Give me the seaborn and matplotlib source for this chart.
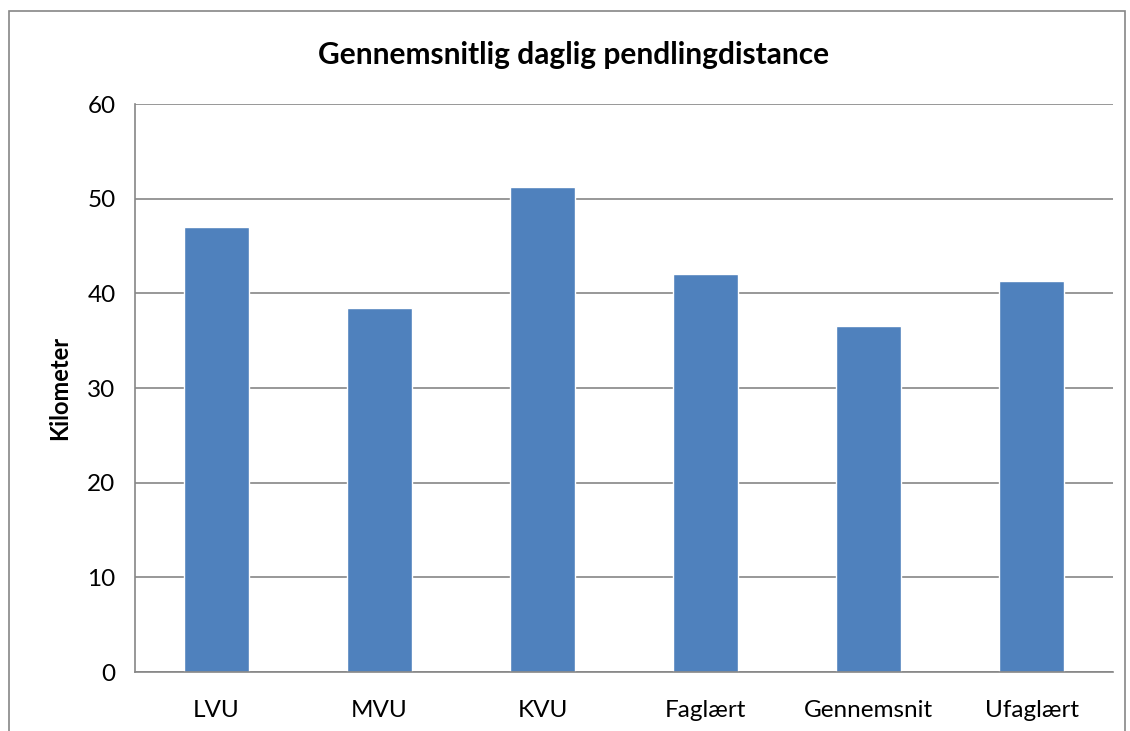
import matplotlib.pyplot as plt
import numpy as np
import pandas as pd
import seaborn as sns
from matplotlib.patches import Rectangle

categories = ['LVU', 'MVU', 'KVU', 'Faglært', 'Gennemsnit', 'Ufaglært']
km = [47.0, 38.4, 51.2, 42.0, 36.6, 41.3]
yticks = [0, 10, 20, 30, 40, 50, 60]

df = pd.DataFrame({'Uddannelse': categories, 'Kilometer': km})

sns.set_style('white')
plt.rcParams['font.family'] = ['Lato', 'DejaVu Sans']
plt.rcParams['text.color'] = 'black'
plt.rcParams['axes.labelcolor'] = 'black'
plt.rcParams['xtick.labelcolor'] = 'black'
plt.rcParams['ytick.labelcolor'] = 'black'

fig = plt.figure(figsize=(11.3, 7.31), dpi=100)
ax = fig.add_axes([0.1195, 0.0807, 0.8655, 0.777])

sns.barplot(df, x='Uddannelse', y='Kilometer', color='#4F81BD',
            saturation=1, width=0.4, ax=ax)

grey = '#868686'
ax.set_ylim(0, 60)
ax.set_xlim(-0.5, len(categories) - 0.5)
ax.set_yticks(yticks)
ax.yaxis.grid(True, color=grey, linewidth=1.2)
ax.set_axisbelow(True)
for side in ('top', 'right'):
    ax.spines[side].set_visible(False)
for side in ('left', 'bottom'):
    ax.spines[side].set_color(grey)
    ax.spines[side].set_linewidth(1.2)

ax.set_xticks(np.arange(-0.5, len(categories)), minor=True)
ax.tick_params(axis='x', which='major', length=0, pad=20, labelsize=17.5)
ax.tick_params(axis='x', which='minor', length=8, width=1.2, color=grey,
               direction='out')
ax.tick_params(axis='y', length=8, width=1.2, color=grey, direction='out',
               labelsize=17.5, pad=6)

ax.set_xlabel('')
ax.set_ylabel('Kilometer', fontsize=17, fontweight='bold', labelpad=12)
fig.text(0.508, 0.925, 'Gennemsnitlig daglig pendlingdistance', ha='center',
         va='center', fontsize=21.5, fontweight='bold')

border = Rectangle((9 / 1130, -0.01), (1130 - 14) / 1130,
                   (731 - 11) / 731 + 0.01, transform=fig.transFigure,
                   fill=False, edgecolor=grey, linewidth=1.2)
fig.patches.append(border)

fig.savefig('out.png', dpi=100)
